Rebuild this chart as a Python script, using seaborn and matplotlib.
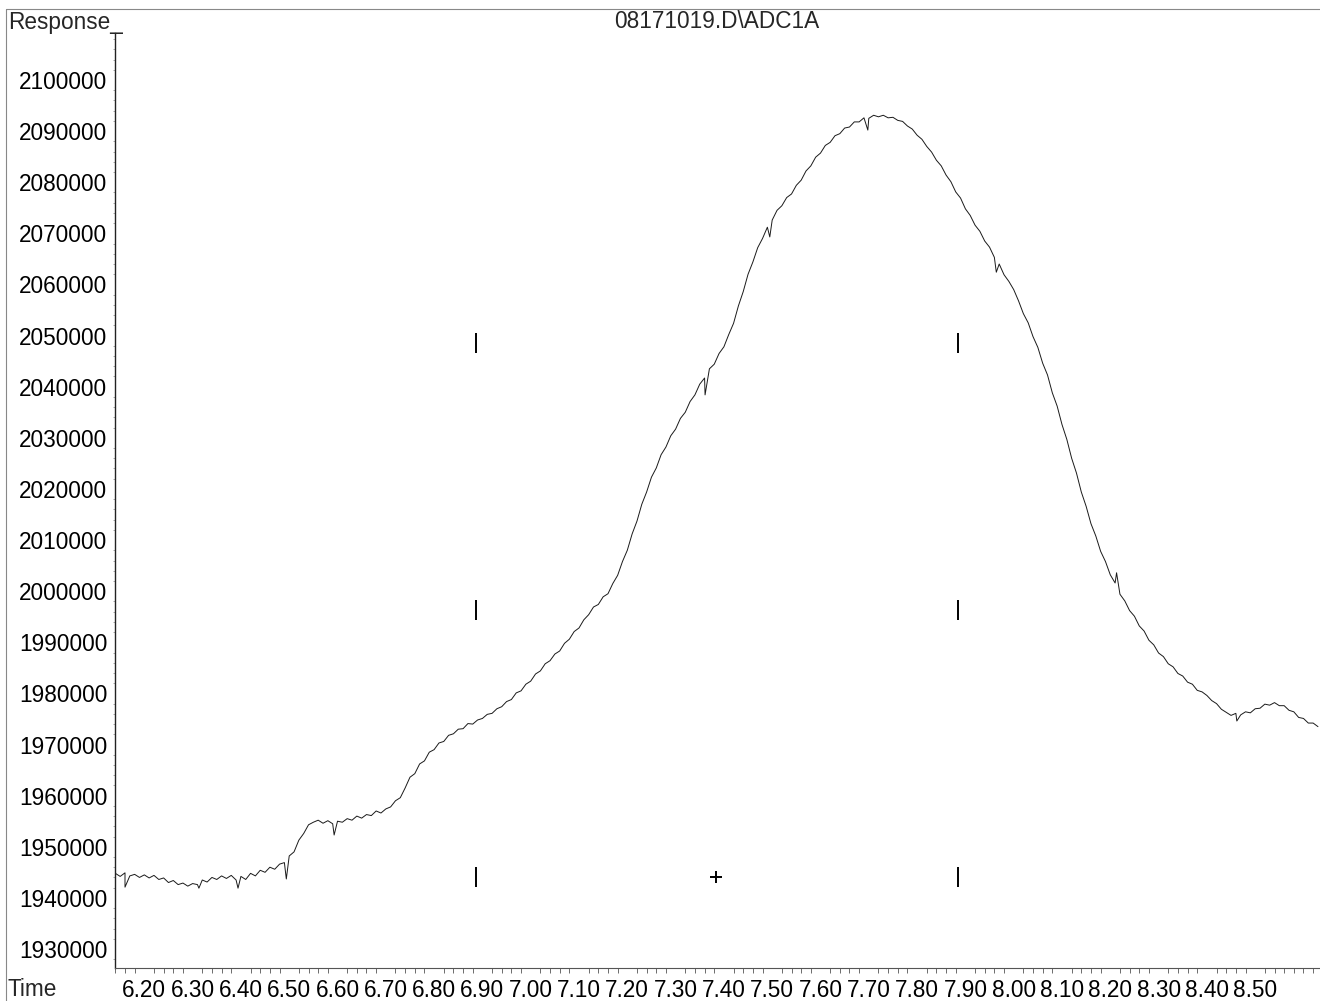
import numpy as np
import pandas as pd
import matplotlib
matplotlib.use("Agg")
import matplotlib.pyplot as plt
from matplotlib.lines import Line2D
from matplotlib.ticker import MultipleLocator, FixedLocator
import seaborn as sns

# Detector trace sampled every 0.01 min (response in thousands of counts)
t_start, t_step = 6.14, 0.01
response_k = [
    1944.8, 1944.2, 1944.9, 1944.3, 1944.6, 1944.0, 1944.5, 1943.9, 1944.4, 1943.6,
    1943.9, 1943.0, 1943.4, 1942.6, 1942.9, 1942.3, 1942.8, 1942.6, 1943.5, 1943.1,
    1944.0, 1943.6, 1944.3, 1943.8, 1944.4, 1943.5, 1944.2, 1943.6, 1944.8, 1944.3,
    1945.4, 1945.0, 1946.0, 1945.6, 1946.6, 1946.9, 1948.2, 1949.0, 1951.3, 1952.6,
    1954.3, 1954.8, 1955.2, 1954.6, 1955.1, 1954.5, 1955.0, 1954.8, 1955.5, 1955.2,
    1956.0, 1955.6, 1956.3, 1956.1, 1957.0, 1956.6, 1957.4, 1957.8, 1959.0, 1959.6,
    1961.5, 1963.6, 1964.3, 1966.2, 1966.8, 1968.5, 1969.0, 1970.3, 1970.6, 1971.8,
    1972.1, 1973.0, 1973.1, 1974.1, 1974.0, 1974.8, 1975.1, 1975.9, 1976.1, 1977.0,
    1977.4, 1978.4, 1978.8, 1980.1, 1980.5, 1981.8, 1982.4, 1983.8, 1984.4, 1985.8,
    1986.4, 1987.7, 1988.3, 1989.8, 1990.6, 1992.1, 1992.8, 1994.4, 1995.4, 1996.9,
    1997.4, 1998.9, 1999.5, 2001.5, 2003.1, 2005.8, 2008.0, 2011.2, 2013.7, 2017.0,
    2019.4, 2022.3, 2024.1, 2026.7, 2028.2, 2030.4, 2031.7, 2033.8, 2035.0, 2037.1,
    2038.4, 2040.5, 2041.7, 2043.5, 2044.4, 2046.5, 2047.8, 2050.2, 2052.4, 2055.8,
    2058.6, 2062.0, 2064.4, 2067.2, 2069.0, 2071.2, 2072.6, 2074.5, 2075.4, 2077.0,
    2077.7, 2079.4, 2080.4, 2082.2, 2083.2, 2084.9, 2085.7, 2087.2, 2087.8, 2089.1,
    2089.5, 2090.6, 2090.8, 2091.8, 2091.8, 2092.6, 2092.5, 2093.1, 2092.8, 2093.1,
    2092.6, 2092.7, 2092.1, 2091.9, 2091.0, 2090.4, 2089.2, 2088.4, 2087.0, 2085.9,
    2084.3, 2083.2, 2081.4, 2080.1, 2078.1, 2076.9, 2074.8, 2073.5, 2071.6, 2070.4,
    2068.5, 2067.3, 2065.3, 2064.0, 2061.9, 2060.6, 2059.0, 2056.8, 2054.3, 2052.5,
    2049.8, 2047.7, 2044.6, 2042.3, 2038.8, 2036.2, 2032.6, 2029.7, 2026.0, 2023.1,
    2019.4, 2016.6, 2013.2, 2010.8, 2007.8, 2005.8, 2003.2, 2001.6, 1999.4, 1998.1,
    1996.2, 1995.1, 1993.2, 1992.2, 1990.4, 1989.5, 1987.9, 1987.2, 1985.8, 1985.2,
    1983.9, 1983.4, 1982.2, 1981.8, 1980.6, 1980.3, 1979.6, 1978.6, 1978.0, 1976.9,
    1976.3, 1975.7, 1976.1, 1975.8, 1976.4, 1976.2, 1977.0, 1977.1, 1977.9, 1977.7,
    1978.2, 1977.6, 1977.6, 1976.7, 1976.4, 1975.3, 1975.1, 1974.2, 1974.2, 1973.5,
]

# Short noise spikes on the trace
spike_time = [6.160, 6.313, 6.394, 6.494, 6.593, 7.361, 7.495, 7.698, 7.964, 8.213, 8.462]
spike_resp_k = [1942.1, 1941.9, 1941.9, 1943.7, 1952.3, 2038.4, 2069.3, 2090.2, 2062.4, 2003.6, 1974.6]

# Integration event markers
event_bar_time = [6.887, 7.885]
event_bar_level = [2048600, 1996300, 1944100]
event_plus_time = [7.383]
event_plus_level = [1944100]

y_ticks = list(range(1930000, 2100001, 10000))
x_tick_labels = ["6.20", "6.30", "6.40", "6.50", "6.60", "6.70", "6.80", "6.90",
                 "7.00", "7.10", "7.20", "7.30", "7.40", "7.50", "7.60", "7.70",
                 "7.80", "7.90", "8.00", "8.10", "8.20", "8.30", "8.40", "8.50"]

time = np.round(t_start + t_step * np.arange(len(response_k)), 3)
df = pd.DataFrame({
    "Time": np.concatenate([time, spike_time]),
    "Response": np.concatenate([np.array(response_k), np.array(spike_resp_k)]) * 1000,
}).sort_values("Time")

sns.set_theme(style="white")
plt.rcParams["font.family"] = ["Liberation Sans", "DejaVu Sans"]

FS = 16.3

fig = plt.figure(figsize=(13.2, 10.01), dpi=100)
ax = fig.add_axes([115 / 1320, 33 / 1001, 1 - 115 / 1320, 935 / 1001])

sns.lineplot(data=df, x="Time", y="Response", ax=ax, color="#1a1a1a",
             linewidth=0.7, estimator=None, sort=False)

for bt in event_bar_time:
    ax.plot([bt] * len(event_bar_level), event_bar_level, linestyle="none",
            marker="|", markersize=14.5, markeredgewidth=1.4, color="black")
ax.plot(event_plus_time, event_plus_level, linestyle="none", marker="+",
        markersize=8.5, markeredgewidth=1.4, color="black")

ax.set_xlim(6.1393, 8.6342)
ax.set_ylim(1926283, 2109193)

for s in ["top", "right"]:
    ax.spines[s].set_visible(False)
ax.spines["left"].set_color("#222222")
ax.spines["left"].set_linewidth(1.0)
ax.spines["bottom"].set_color("#555555")
ax.spines["bottom"].set_linewidth(0.8)

ax.set_yticks(y_ticks)
ax.set_yticklabels([str(v) for v in y_ticks])
ax.yaxis.set_minor_locator(MultipleLocator(2000))
x_major = [float(s) for s in x_tick_labels]
ax.xaxis.set_major_locator(FixedLocator(x_major))
ax.set_xticklabels(x_tick_labels)
ax.xaxis.set_minor_locator(MultipleLocator(0.02))

ax.tick_params(axis="y", which="major", direction="out", length=3.6, width=0.8,
               color="#333333", labelsize=FS, pad=2.0, labelcolor="black")
ax.tick_params(axis="y", which="minor", direction="out", length=1.5, width=0.5,
               color="#888888", left=True)
ax.tick_params(axis="x", which="major", direction="out", length=5.8, width=0.8,
               color="#444444", labelsize=FS, pad=2.0, labelcolor="black")
ax.tick_params(axis="x", which="minor", direction="out", length=3.6, width=0.6,
               color="#555555", bottom=True)

ax.set_xlabel("")
ax.set_ylabel("")

fig.text(8 / 1320, 1 - 23 / 1001, "Response_", fontsize=FS, ha="left", va="center")
fig.text(8 / 1320, 1 - 990 / 1001, "Time", fontsize=FS, ha="left", va="center")
fig.text(717 / 1320, 1 - 22 / 1001, "08171019.D\\ADC1A", fontsize=FS,
         ha="center", va="center")

# Thin outer frame lines along top and left
fig.add_artist(Line2D([6 / 1320, 1], [1 - 9 / 1001, 1 - 9 / 1001],
                      transform=fig.transFigure, color="#888888", linewidth=0.8))
fig.add_artist(Line2D([6 / 1320, 6 / 1320], [1 - 9 / 1001, 0],
                      transform=fig.transFigure, color="#888888", linewidth=0.8))

fig.savefig("out.png", dpi=100, facecolor="white")
